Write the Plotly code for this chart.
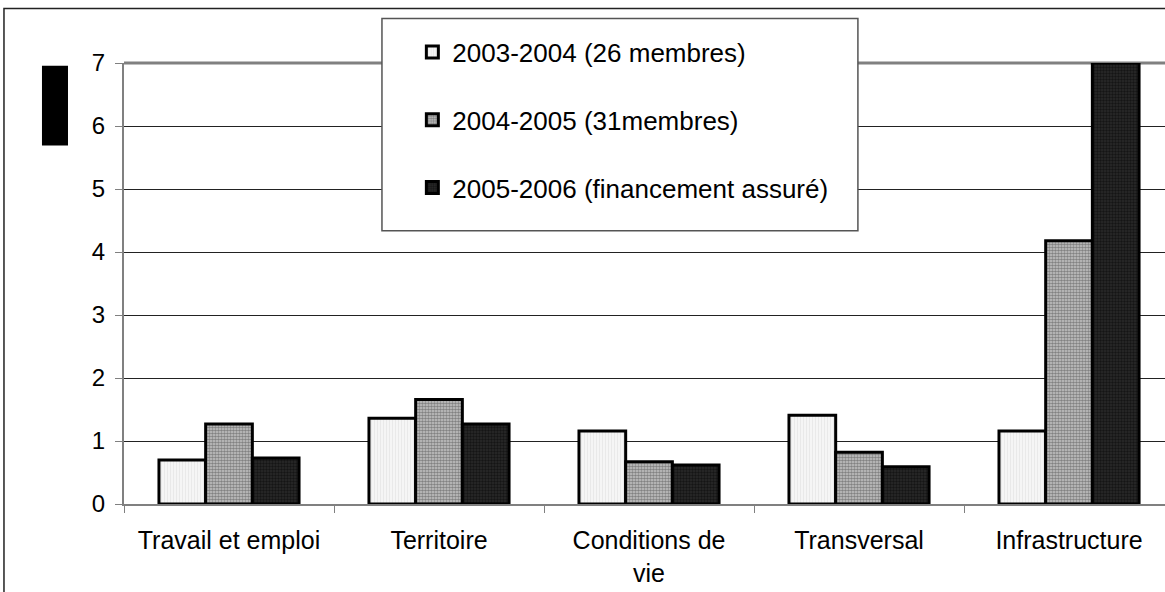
import plotly.graph_objects as go

categories = ["Travail et emploi", "Territoire", "Conditions de<br>vie", "Transversal", "Infrastructure"]
series_names = ["2003-2004 (26 membres)", "2004-2005 (31membres)", "2005-2006 (financement assuré)"]
s2003 = [0.70, 1.36, 1.16, 1.41, 1.16]
s2004 = [1.27, 1.66, 0.67, 0.82, 4.18]
s2005 = [0.73, 1.27, 0.62, 0.59, 7.00]
y_ticks = [0, 1, 2, 3, 4, 5, 6, 7]

FONT = "Liberation Sans, Arial, sans-serif"

fig = go.Figure()
styles = [
    dict(color="#f3f3f3", pattern=dict(shape="|", fgcolor="#d6d6d6", bgcolor="#f5f5f5", size=3, solidity=0.25)),
    dict(color="#a0a0a0", pattern=dict(shape=".", fgcolor="#3c3c3c", bgcolor="#c8c8c8", size=3, solidity=0.6)),
    dict(color="#141414", pattern=dict(shape=".", fgcolor="#000000", bgcolor="#2a2a2a", size=3, solidity=0.5)),
]
for i, (name, vals) in enumerate(zip(series_names, [s2003, s2004, s2005])):
    st = styles[i]
    fig.add_trace(go.Bar(
        x=categories, y=vals, name=name, legendgroup=f"g{i}",
        marker=dict(color=st["color"], pattern=st["pattern"], line=dict(color="#000000", width=3)),
    ))

fig.update_layout(
    width=1165, height=592,
    margin=dict(l=124, r=0, t=63, b=88),
    paper_bgcolor="white", plot_bgcolor="white",
    barmode="group", bargap=0.333, bargroupgap=0,
    font=dict(family=FONT, color="#000000"),
    showlegend=True,
    legend=dict(
        x=0.277, y=1.078, xanchor="left", yanchor="top",
        bgcolor="rgba(0,0,0,0)", borderwidth=0,
        font=dict(family=FONT, size=26, color="#000"),
        tracegroupgap=31, itemwidth=30, traceorder="grouped",
    ),
)
fig.update_xaxes(
    range=[-0.5, 4.457], showline=True, linecolor="#808080", linewidth=2,
    ticks="outside", tickson="boundaries", ticklen=7, tickcolor="#808080",
    tickfont=dict(size=25, family=FONT, color="#000"), showgrid=False,
    ticklabelstandoff=13,
)
fig.update_yaxes(
    range=[0, 7], tickvals=y_ticks, showline=True, linecolor="#808080", linewidth=2,
    ticks="outside", ticklen=7, tickcolor="#808080",
    tickfont=dict(size=24, family=FONT, color="#000"),
    showgrid=True, gridcolor="#222222", gridwidth=1, zeroline=False,
    ticklabelstandoff=5,
)

# top border of the plot area (thick gray)
fig.add_shape(type="line", xref="paper", yref="paper", x0=0, x1=1, y0=1, y1=1,
              line=dict(color="#808080", width=3), layer="between")
# legend box
fig.add_shape(type="rect", xref="paper", yref="paper", x0=0.2478, x1=0.705, y0=0.6197, y1=1.101,
              fillcolor="white", line=dict(color="#555555", width=1.5), layer="above")
# black block left of the axis
fig.add_shape(type="rect", xref="paper", yref="paper", x0=-0.0788, x1=-0.0538, y0=0.8127, y1=0.994,
              fillcolor="black", line=dict(width=0), layer="above")
# outer frame
fig.add_shape(type="rect", xref="paper", yref="paper", x0=-0.1153, x1=1.2, y0=-0.4, y1=1.1237,
              fillcolor="rgba(0,0,0,0)", line=dict(color="#222222", width=1.5), layer="above")

fig.write_html("out.html", config={"displayModeBar": False},
               post_script="document.body.style.margin='0px';document.body.style.overflow='hidden';")
